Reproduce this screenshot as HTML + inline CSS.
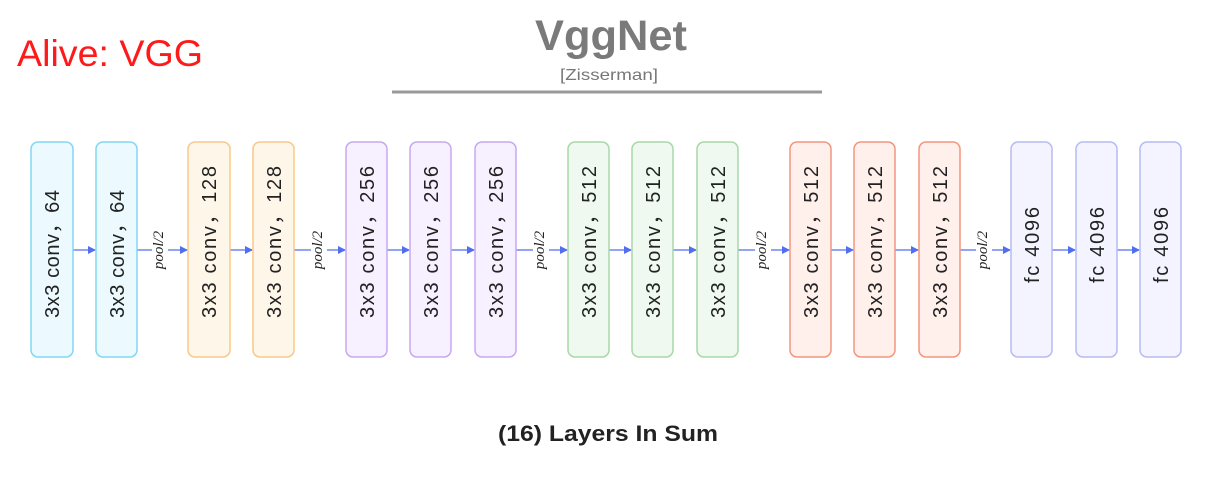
<!DOCTYPE html>
<html><head><style>body{margin:0;background:#fff}</style></head><body>
<svg width="1208" height="472" xmlns="http://www.w3.org/2000/svg" font-family="Liberation Sans, sans-serif">
<rect width="1208" height="472" fill="#fff"/>
<text x="17" y="66" font-size="37" fill="#ff1a1a" textLength="186" lengthAdjust="spacingAndGlyphs">Alive: VGG</text>
<text x="611" y="50" font-size="43" font-weight="bold" fill="#7a7a7a" text-anchor="middle" textLength="152" lengthAdjust="spacingAndGlyphs">VggNet</text>
<text x="609" y="80" font-size="16" fill="#777" text-anchor="middle" textLength="98" lengthAdjust="spacingAndGlyphs">[Zisserman]</text>
<line x1="392" y1="92" x2="822" y2="92" stroke="#999" stroke-width="3"/>
<defs><marker id="a" markerWidth="8" markerHeight="8" refX="7" refY="4" orient="auto" markerUnits="userSpaceOnUse"><path d="M0,0 L8,4 L0,8 z" fill="#4f6ef0"/></marker></defs>
<g stroke="#6f86f2" stroke-width="1.5" marker-end="url(#a)">
<line x1="73" y1="250" x2="95" y2="250"/>
<line x1="137" y1="250" x2="187" y2="250"/>
<line x1="230" y1="250" x2="252" y2="250"/>
<line x1="294" y1="250" x2="345" y2="250"/>
<line x1="387" y1="250" x2="409" y2="250"/>
<line x1="451" y1="250" x2="474" y2="250"/>
<line x1="516" y1="250" x2="567" y2="250"/>
<line x1="609" y1="250" x2="631" y2="250"/>
<line x1="673" y1="250" x2="696" y2="250"/>
<line x1="738" y1="250" x2="789" y2="250"/>
<line x1="831" y1="250" x2="853" y2="250"/>
<line x1="895" y1="250" x2="918" y2="250"/>
<line x1="960" y1="250" x2="1010" y2="250"/>
<line x1="1052" y1="250" x2="1075" y2="250"/>
<line x1="1117" y1="250" x2="1139" y2="250"/>
</g>
<g font-family="Liberation Serif, serif" font-style="italic" font-size="15" fill="#222" text-anchor="middle">
<rect x="152" y="225" width="16" height="50" fill="#fff"/><text transform="translate(163,250) rotate(-90)">pool/2</text>
<rect x="311" y="225" width="16" height="50" fill="#fff"/><text transform="translate(322,250) rotate(-90)">pool/2</text>
<rect x="533" y="225" width="16" height="50" fill="#fff"/><text transform="translate(544,250) rotate(-90)">pool/2</text>
<rect x="755" y="225" width="16" height="50" fill="#fff"/><text transform="translate(766,250) rotate(-90)">pool/2</text>
<rect x="976" y="225" width="16" height="50" fill="#fff"/><text transform="translate(987,250) rotate(-90)">pool/2</text>
</g>
<g stroke-width="1.5">
<rect x="31" y="142" width="42" height="215" rx="7" fill="#ecfaff" stroke="#80d8f0"/>
<rect x="96" y="142" width="41" height="215" rx="7" fill="#ecfaff" stroke="#80d8f0"/>
<rect x="188" y="142" width="42" height="215" rx="7" fill="#fff6ea" stroke="#f8c88a"/>
<rect x="253" y="142" width="41" height="215" rx="7" fill="#fff6ea" stroke="#f8c88a"/>
<rect x="346" y="142" width="41" height="215" rx="7" fill="#f6f0ff" stroke="#c6a8f2"/>
<rect x="410" y="142" width="41" height="215" rx="7" fill="#f6f0ff" stroke="#c6a8f2"/>
<rect x="475" y="142" width="41" height="215" rx="7" fill="#f6f0ff" stroke="#c6a8f2"/>
<rect x="568" y="142" width="41" height="215" rx="7" fill="#eff9ef" stroke="#a8d8a8"/>
<rect x="632" y="142" width="41" height="215" rx="7" fill="#eff9ef" stroke="#a8d8a8"/>
<rect x="697" y="142" width="41" height="215" rx="7" fill="#eff9ef" stroke="#a8d8a8"/>
<rect x="790" y="142" width="41" height="215" rx="7" fill="#fff0ec" stroke="#f2957f"/>
<rect x="854" y="142" width="41" height="215" rx="7" fill="#fff0ec" stroke="#f2957f"/>
<rect x="919" y="142" width="41" height="215" rx="7" fill="#fff0ec" stroke="#f2957f"/>
<rect x="1011" y="142" width="41" height="215" rx="7" fill="#f3f4ff" stroke="#b6bcf0"/>
<rect x="1076" y="142" width="41" height="215" rx="7" fill="#f3f4ff" stroke="#b6bcf0"/>
<rect x="1140" y="142" width="41" height="215" rx="7" fill="#f3f4ff" stroke="#b6bcf0"/>
</g>
<g font-size="20" fill="#222" font-family="Liberation Sans, Noto Sans CJK SC, sans-serif" lengthAdjust="spacingAndGlyphs">
<text transform="translate(59,318) rotate(-90)" textLength="128">3x3 conv，64</text>
<text transform="translate(124,318) rotate(-90)" textLength="128">3x3 conv，64</text>
<text transform="translate(216,318) rotate(-90)" textLength="152">3x3 conv，128</text>
<text transform="translate(281,318) rotate(-90)" textLength="152">3x3 conv，128</text>
<text transform="translate(374,318) rotate(-90)" textLength="152">3x3 conv，256</text>
<text transform="translate(438,318) rotate(-90)" textLength="152">3x3 conv，256</text>
<text transform="translate(503,318) rotate(-90)" textLength="152">3x3 conv，256</text>
<text transform="translate(596,318) rotate(-90)" textLength="152">3x3 conv，512</text>
<text transform="translate(660,318) rotate(-90)" textLength="152">3x3 conv，512</text>
<text transform="translate(725,318) rotate(-90)" textLength="152">3x3 conv，512</text>
<text transform="translate(818,318) rotate(-90)" textLength="152">3x3 conv，512</text>
<text transform="translate(882,318) rotate(-90)" textLength="152">3x3 conv，512</text>
<text transform="translate(947,318) rotate(-90)" textLength="152">3x3 conv，512</text>
</g>
<g font-size="20" fill="#222" text-anchor="middle" lengthAdjust="spacingAndGlyphs">
<text transform="translate(1039,245) rotate(-90)" textLength="76">fc 4096</text>
<text transform="translate(1104,245) rotate(-90)" textLength="76">fc 4096</text>
<text transform="translate(1168,245) rotate(-90)" textLength="76">fc 4096</text>
</g>
<text x="608" y="441" font-size="22" font-weight="bold" fill="#222" text-anchor="middle" textLength="220" lengthAdjust="spacingAndGlyphs">(16) Layers In Sum</text>
</svg>
</body></html>
